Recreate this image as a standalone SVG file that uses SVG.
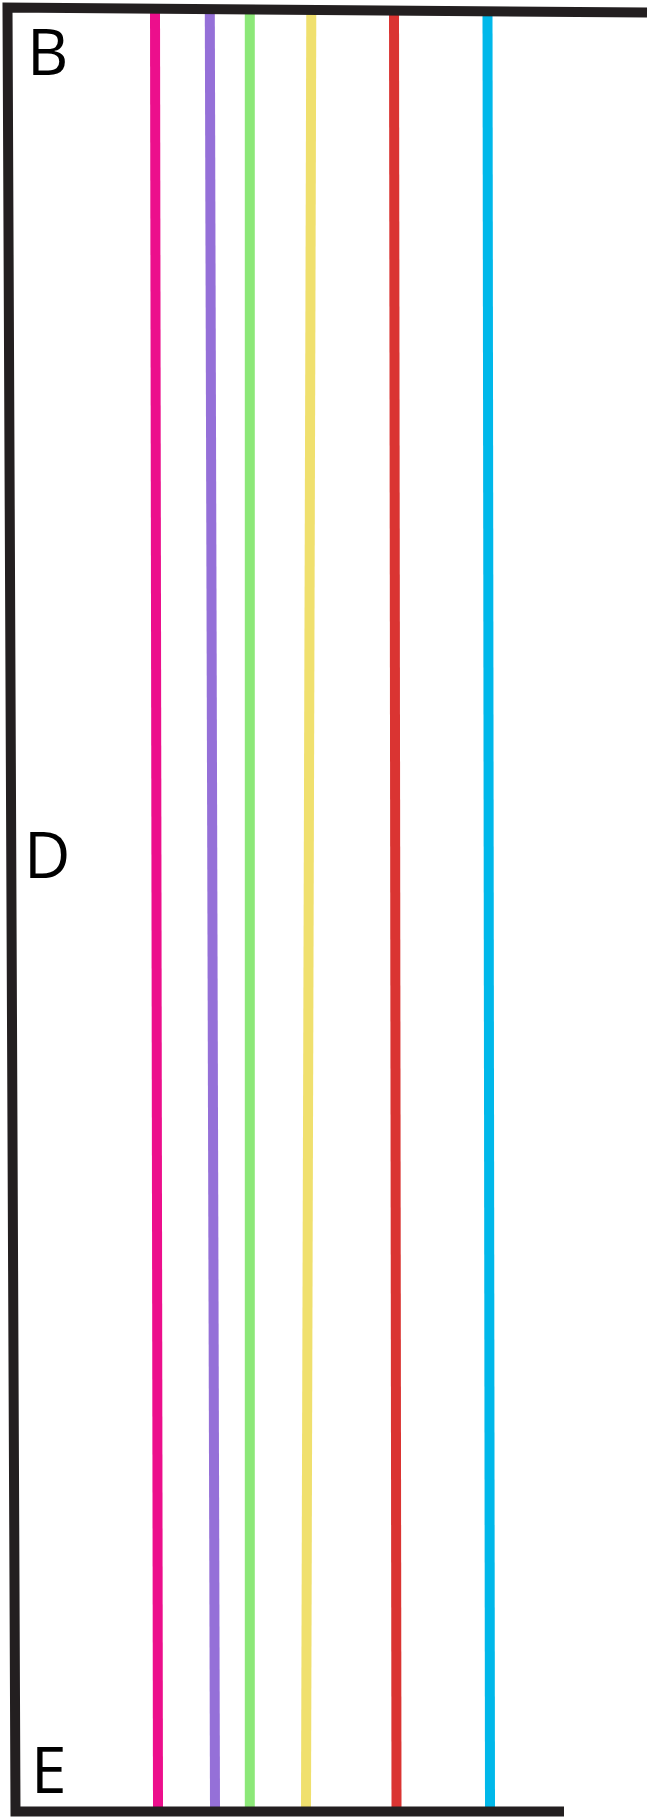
<svg xmlns="http://www.w3.org/2000/svg" width="650" height="1817" viewBox="0 0 650 1817">
<style>
.frame{fill:none;stroke:#231f20;stroke-width:10;stroke-linejoin:miter;stroke-miterlimit:10}
.ln{fill:none;stroke-width:10}
.lbl{font-family:"Open Sans","Liberation Sans",sans-serif;font-size:64px;fill:#000}
</style>
<rect width="650" height="1817" fill="#fff"/>
<g id="connectors">
<line id="pink" class="ln" stroke="#ec0f8c" x1="155" y1="10" x2="158" y2="1808"/>
<line id="purple" class="ln" stroke="#9570d8" x1="209.8" y1="10" x2="215" y2="1808"/>
<line id="green" class="ln" stroke="#8ce878" x1="249.8" y1="10" x2="249.8" y2="1808"/>
<line id="yellow" class="ln" stroke="#f0e06e" x1="311.3" y1="10" x2="306" y2="1808"/>
<line id="red" class="ln" stroke="#da3432" x1="394" y1="10" x2="396.5" y2="1808"/>
<line id="blue" class="ln" stroke="#00b8ea" x1="487.5" y1="10" x2="490" y2="1808"/>
</g>
<g id="frame">
<polyline class="frame" points="647,12.5 7.5,7.5 15.5,1811.5 564,1811.5"/>
</g>
<g id="B"><text class="lbl" x="27" y="75">B</text></g>
<g id="D"><text class="lbl" x="24" y="878">D</text></g>
<g id="E"><text class="lbl" x="31" y="1793">E</text></g>
</svg>
